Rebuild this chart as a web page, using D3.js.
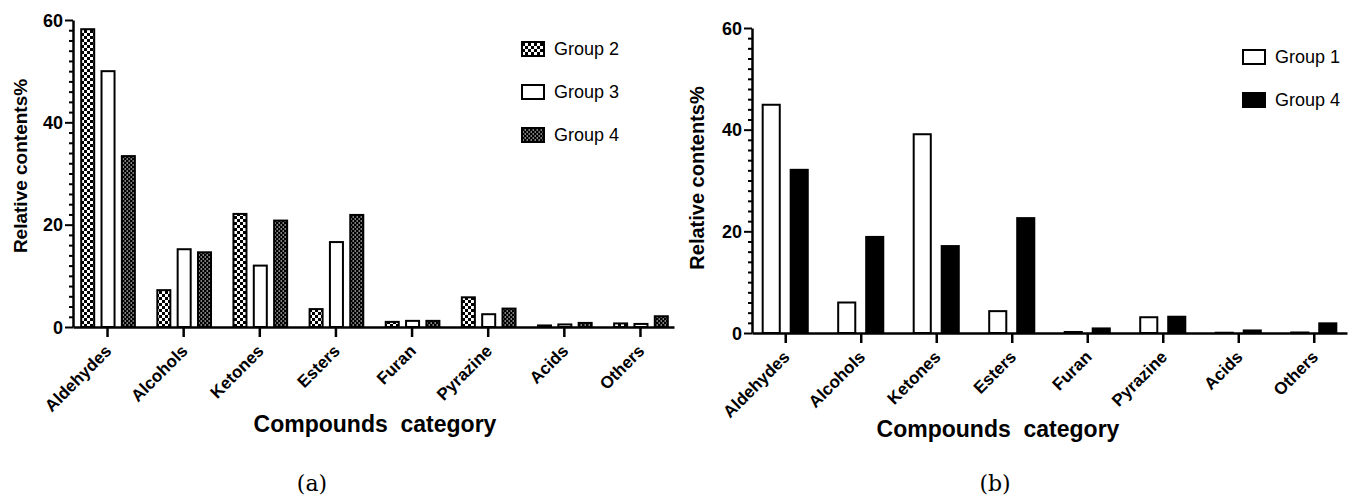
<!DOCTYPE html>
<html>
<head>
<meta charset="utf-8">
<script src="https://cdn.jsdelivr.net/npm/d3@7"></script>
<style>
    body { margin: 0; background: #fff; }
    svg text { font-family: "Liberation Sans", Arial, sans-serif; fill: #000; }
</style>
</head>
<body>
<svg id="chart" width="1357" height="499"></svg>
<script>
// categories on the x axis (same for both panels)
var categories = ["Aldehydes", "Alcohols", "Ketones", "Esters", "Furan", "Pyrazine", "Acids", "Others"];

// panel (a) values, relative contents %
var aGroup2 = [58.2, 7.2, 22.1, 3.5, 1.0, 5.8, 0.3, 0.7];
var aGroup3 = [50.0, 15.2, 12.0, 16.6, 1.2, 2.5, 0.5, 0.6];
var aGroup4 = [33.4, 14.6, 20.8, 21.9, 1.2, 3.6, 0.8, 2.1];

// panel (b) values
var bGroup1 = [44.9, 6.0, 39.1, 4.3, 0.2, 3.1, 0.05, 0.1];
var bGroup4 = [32.1, 18.9, 17.1, 22.6, 0.9, 3.2, 0.5, 1.9];

var yTicks = [0, 20, 40, 60];
var yLabel = "Relative contents%";
var xLabel = "Compounds  category";

var svg = d3.select("#chart");
var defs = svg.append("defs");

// checkerboard fill
var checker = defs.append("pattern")
    .attr("id", "checker")
    .attr("patternUnits", "userSpaceOnUse")
    .attr("width", 6).attr("height", 6);
checker.append("rect").attr("width", 6).attr("height", 6).attr("fill", "#fff");
checker.append("rect").attr("x", 0).attr("y", 0).attr("width", 3).attr("height", 3).attr("fill", "#000");
checker.append("rect").attr("x", 3).attr("y", 3).attr("width", 3).attr("height", 3).attr("fill", "#000");

// dark dotted fill
var dots = defs.append("pattern")
    .attr("id", "dots")
    .attr("patternUnits", "userSpaceOnUse")
    .attr("width", 4).attr("height", 4);
dots.append("rect").attr("width", 4).attr("height", 4).attr("fill", "#000");
dots.append("rect").attr("x", 0.5).attr("y", 0.5).attr("width", 1.5).attr("height", 1).attr("fill", "#fff");
dots.append("rect").attr("x", 2.5).attr("y", 2.5).attr("width", 1.5).attr("height", 1).attr("fill", "#fff");

function drawPanel(p) {
    var g = svg.append("g");

    var x = d3.scalePoint()
        .domain(categories)
        .range([p.left, p.right])
        .padding(p.pad);

    var x1 = d3.scaleBand()
        .domain(p.series.map(s => s.name))
        .range([-p.groupHalf + p.shift, p.groupHalf + p.shift])
        .paddingInner(p.inner)
        .paddingOuter(p.inner / 2);

    var y = d3.scaleLinear()
        .domain([0, 60])
        .range([p.bottom, p.top]);

    // bars
    p.series.forEach(s => {
        g.append("g")
            .selectAll("rect")
            .data(s.values)
            .join("rect")
            .attr("x", (d, i) => x(categories[i]) + x1(s.name))
            .attr("y", d => y(d))
            .attr("width", x1.bandwidth())
            .attr("height", d => y(0) - y(d))
            .attr("fill", s.fill)
            .attr("stroke", "#000")
            .attr("stroke-width", 2);
    });

    // minor y ticks
    var minor = d3.range(0, 61, 2).filter(v => v % 20 != 0);
    g.append("g")
        .attr("transform", `translate(${p.left},0)`)
        .call(d3.axisLeft(y).tickValues(minor).tickSize(4).tickFormat(""))
        .call(a => a.select(".domain").remove())
        .call(a => a.selectAll("line").attr("stroke-width", 2));

    // y axis
    g.append("g")
        .attr("transform", `translate(${p.left},0)`)
        .call(d3.axisLeft(y).tickValues(yTicks).tickSize(8).tickPadding(2).tickSizeOuter(0))
        .call(a => a.select(".domain").attr("stroke-width", 2.5))
        .call(a => a.selectAll("line").attr("stroke-width", 2))
        .call(a => a.selectAll("text")
            .attr("font-size", 18)
            .attr("font-weight", "bold")
            .attr("dy", "0.35em"));

    // x axis
    g.append("g")
        .attr("transform", `translate(0,${p.bottom})`)
        .call(d3.axisBottom(x).tickSize(10).tickSizeOuter(0))
        .call(a => a.select(".domain").attr("stroke-width", 2.5))
        .call(a => a.selectAll("line").attr("stroke-width", 2.5))
        .call(a => a.selectAll("text")
            .attr("font-size", 17)
            .attr("font-weight", "bold")
            .attr("text-anchor", "end")
            .attr("x", 0).attr("y", 0).attr("dy", 0)
            .attr("transform", "translate(5,25) rotate(-45)"));

    // axis titles
    g.append("text")
        .attr("transform", `translate(${p.yTitleX},${p.yTitleY}) rotate(-90)`)
        .attr("text-anchor", "middle")
        .attr("dy", "0.35em")
        .attr("font-size", p.yTitleSize)
        .attr("font-weight", "bold")
        .text(yLabel);

    g.append("text")
        .attr("x", p.xTitleX)
        .attr("y", p.xTitleY)
        .attr("text-anchor", "middle")
        .attr("font-size", 23)
        .attr("font-weight", "bold")
        .style("white-space", "pre")
        .text(xLabel);

    // panel letter
    g.append("text")
        .attr("x", p.letterX)
        .attr("y", 491)
        .attr("text-anchor", "middle")
        .attr("font-size", 22)
        .style("font-family", "'DejaVu Serif', serif")
        .text(p.letter);

    // legend
    var leg = g.selectAll(".legend")
        .data(p.series)
        .join("g")
        .attr("transform", (d, i) => `translate(${p.legX},${p.legY + i * p.legStep})`);
    leg.append("rect")
        .attr("x", 0).attr("y", -7)
        .attr("width", 22).attr("height", 14)
        .attr("fill", d => d.fill)
        .attr("stroke", "#000")
        .attr("stroke-width", 2);
    leg.append("text")
        .attr("x", 32)
        .attr("dy", "0.35em")
        .attr("font-size", 18)
        .text(d => d.name);
}

drawPanel({
    left: 73, right: 674, pad: 0.447, top: 20, bottom: 327,
    groupHalf: 30.5, inner: 0.36, shift: 1,
    series: [
        { name: "Group 2", values: aGroup2, fill: "url(#checker)" },
        { name: "Group 3", values: aGroup3, fill: "#fff" },
        { name: "Group 4", values: aGroup4, fill: "url(#dots)" }
    ],
    yTitleX: 20, yTitleY: 166, yTitleSize: 19,
    xTitleX: 375, xTitleY: 432,
    letterX: 312, letter: "(a)",
    legX: 522, legY: 49, legStep: 43
});

drawPanel({
    left: 752, right: 1347, pad: 0.44, top: 28, bottom: 333,
    groupHalf: 28, inner: 0.39, shift: 0,
    series: [
        { name: "Group 1", values: bGroup1, fill: "#fff" },
        { name: "Group 4", values: bGroup4, fill: "#000" }
    ],
    yTitleX: 697, yTitleY: 178, yTitleSize: 20,
    xTitleX: 998, xTitleY: 437,
    letterX: 995, letter: "(b)",
    legX: 1243, legY: 57, legStep: 43
});
</script>
</body>
</html>
